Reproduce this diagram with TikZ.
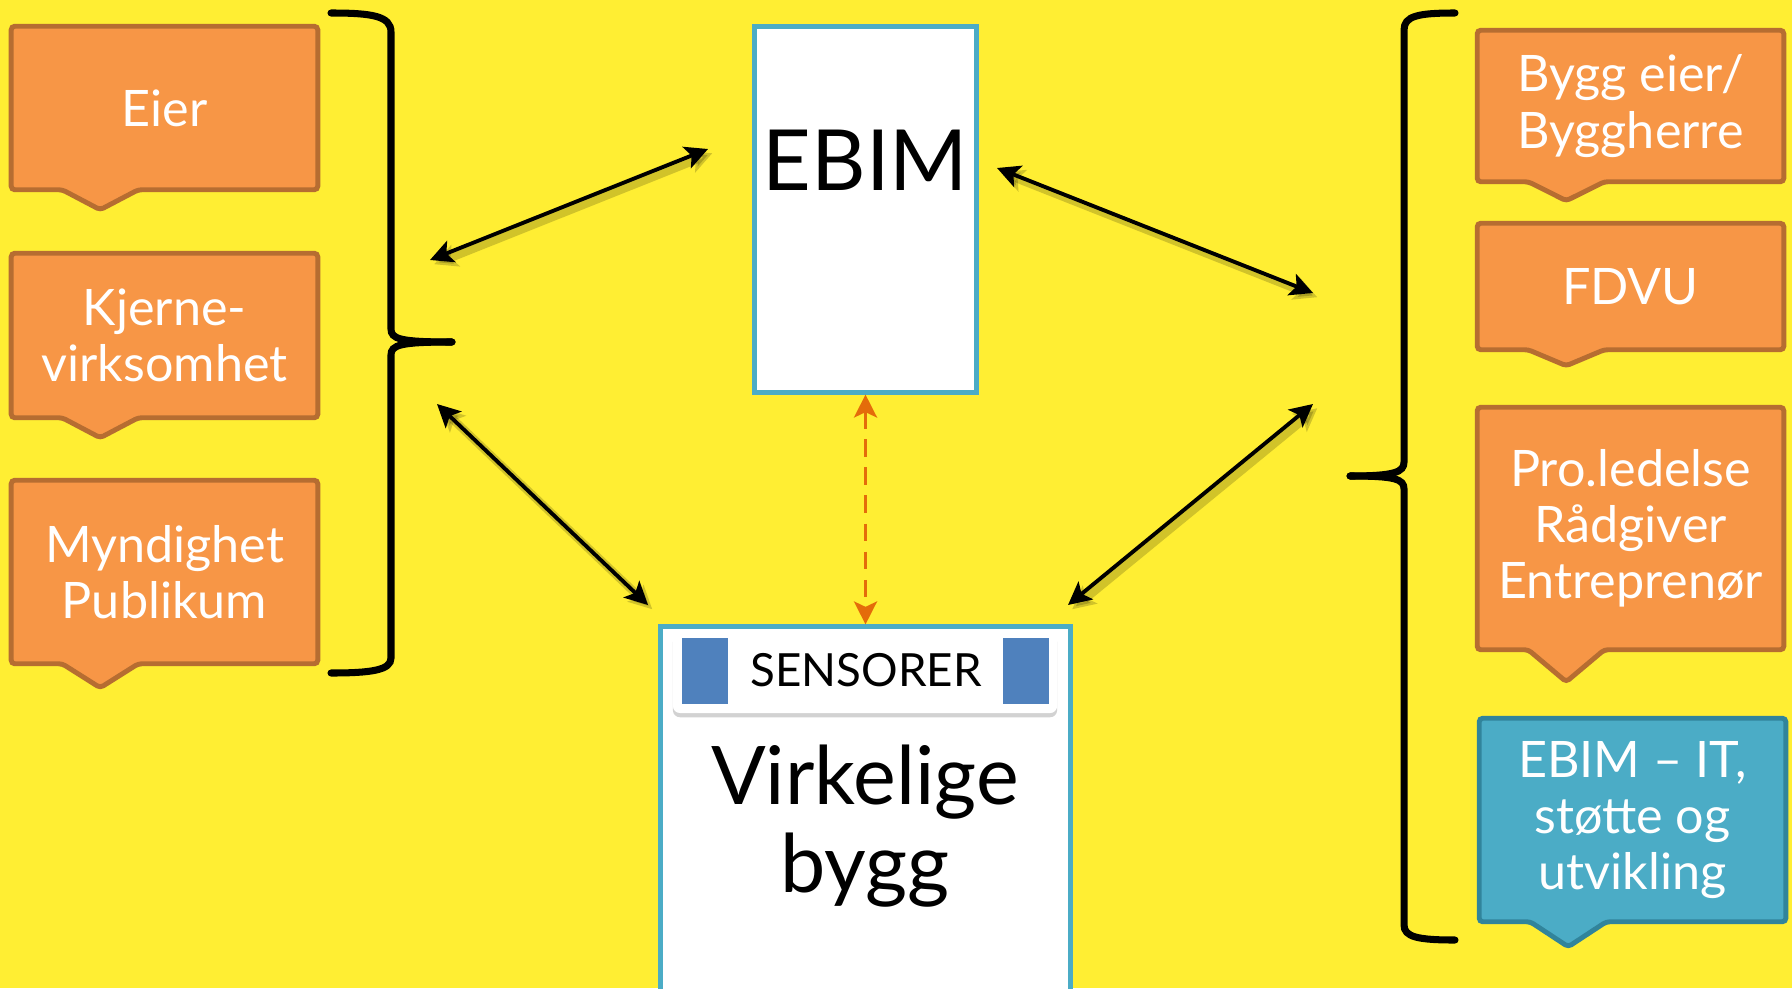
\documentclass[tikz,border=0pt]{standalone}
\usepackage{fontspec}
\setmainfont{Lato}
\usetikzlibrary{arrows.meta,backgrounds,shadows}

\definecolor{bgyellow}{RGB}{255,238,51}
\definecolor{boxorange}{RGB}{247,150,70}
\definecolor{lineorange}{RGB}{182,109,49}
\definecolor{boxblue}{RGB}{75,172,198}
\definecolor{lineblue}{RGB}{49,132,155}
\definecolor{sensorblue}{RGB}{79,129,189}
\definecolor{dashorange}{RGB}{228,108,10}

\tikzset{
  rolebox/.style={inner sep=0pt, align=center, text=white, font=\fontsize{14.3}{16}\selectfont},
  calloutline/.style={line width=1.4pt, rounded corners=1pt},
  whitebox/.style={draw=boxblue, fill=white, line width=1.4pt, inner sep=0pt},
  brace/.style={line width=2pt, line cap=round},
  link/.style={{Stealth[length=6.5pt,width=6.5pt,inset=1.5pt]}-{Stealth[length=6.5pt,width=6.5pt,inset=1.5pt]}, line width=1.1pt,
    preaction={draw=black, opacity=.18, line width=2.4pt, transform canvas={xshift=1.2pt,yshift=-1.2pt}}},
}

\begin{document}
\begin{tikzpicture}[x=0.01cm, y=-0.01cm]
\useasboundingbox (0,0) rectangle (1792,988);
\clip (0,0) rectangle (1792,988);

% roles on the left
\node[rolebox, minimum width=3.05cm, minimum height=1.62cm] (eier) at (164.5,108) {Eier};
\node[rolebox, minimum width=3.05cm, minimum height=1.63cm] (kjerne) at (164.5,335.5) {Kjerne-\\virksomhet};
\node[rolebox, minimum width=3.05cm, minimum height=1.82cm] (myndighet) at (164.5,572) {Myndighet\\Publikum};

% roles on the right
\node[rolebox, minimum width=3.05cm, minimum height=1.50cm] (byggeier) at (1630.5,106) {Bygg eier/\\Byggherre};
\node[rolebox, minimum width=3.05cm, minimum height=1.25cm] (fdvu) at (1630.5,286.5) {FDVU};
\node[rolebox, minimum width=3.05cm, minimum height=2.41cm] (proled) at (1630.5,528.5) {Pro.ledelse\\Rådgiver\\Entreprenør};
\node[rolebox, minimum width=3.05cm, minimum height=2.02cm] (ebimit) at (1632.5,820) {EBIM – IT,\\støtte og\\utvikling};

% background and callout shapes
\begin{scope}[on background layer]
  \fill[bgyellow] (0,0) rectangle (1792,988);
  \foreach \n/\d in {eier/20,kjerne/20,myndighet/24,byggeier/19,fdvu/16,proled/32}
    \filldraw[calloutline, fill=boxorange, draw=lineorange] (\n.north west) -- (\n.north east) -- (\n.south east)
      -- ([xshift=1.27cm]\n.south west) -- ([shift={(89,\d)}]\n.south west) -- ([xshift=0.51cm]\n.south west)
      -- (\n.south west) -- cycle;
  \filldraw[calloutline, fill=boxblue, draw=lineblue] (ebimit.north west) -- (ebimit.north east) -- (ebimit.south east)
      -- ([xshift=1.27cm]ebimit.south west) -- ([shift={(89,25)}]ebimit.south west) -- ([xshift=0.51cm]ebimit.south west)
      -- (ebimit.south west) -- cycle;
\end{scope}

% braces
\draw[brace] (331,13) .. controls (372,13) and (391,16) .. (391,32) -- (391,329)
  .. controls (391,339) and (400,342) .. (452,342);
\draw[brace] (452,342) .. controls (400,342) and (391,345) .. (391,355) -- (391,658)
  .. controls (391,670) and (372,673) .. (331,673);
\draw[brace] (1455,13) .. controls (1418,13) and (1404,16) .. (1404,30) -- (1404,462)
  .. controls (1404,472) and (1395,476) .. (1350,476);
\draw[brace] (1350,476) .. controls (1395,476) and (1404,479) .. (1404,489) -- (1404,925)
  .. controls (1404,937) and (1418,940) .. (1455,940);

% EBIM
\node[whitebox, minimum width=2.21cm, minimum height=3.65cm] (ebim) at (865.5,209.5) {};
\node[font=\fontsize{24}{28}\selectfont] (ebimtxt) at (865.5,160) {EBIM};

% real building with sensors
\node[whitebox, minimum width=4.09cm, minimum height=3.83cm] (bygg) at (865.5,818.5) {};
\node[fill=white, rounded corners=2pt, minimum width=3.84cm, minimum height=0.82cm, inner sep=0pt,
  drop shadow={opacity=.35, shadow xshift=0pt, shadow yshift=-1.2pt}] (sensorbar) at (865,672) {};
\node[fill=sensorblue, minimum width=0.46cm, minimum height=0.66cm, inner sep=0pt] (sqleft) at (705,671) {};
\node[fill=sensorblue, minimum width=0.46cm, minimum height=0.66cm, inner sep=0pt] (sqright) at (1026,671) {};
\node[font=\fontsize{13}{15}\selectfont] (sensor) at (866,670) {SENSORER};
\node[font=\fontsize{23}{25}\selectfont, align=center] (virk) at (865,826) {Virkelige\\bygg};

% arrow ends
\coordinate (lbrace1) at (430,260);
\coordinate (ebimleft) at (708,149);
\coordinate (lbrace2) at (437,404);
\coordinate (bygglefttop) at (648,605);
\coordinate (ebimright) at (997,168);
\coordinate (rbrace1) at (1313,293);
\coordinate (rbrace2) at (1313,404);
\coordinate (byggrighttop) at (1068,605);

\draw[link] (lbrace1) -- (ebimleft);
\draw[link] (lbrace2) -- (bygglefttop);
\draw[link] (ebimright) -- (rbrace1);
\draw[link] (rbrace2) -- (byggrighttop);
\draw[dashorange, dashed, line width=1.1pt, dash pattern=on 5pt off 3pt,
  {Stealth[length=6.5pt,width=6.5pt,inset=1.5pt]}-{Stealth[length=6.5pt,width=6.5pt,inset=1.5pt]}] (ebim.south) -- (bygg.north);
\end{tikzpicture}
\end{document}
